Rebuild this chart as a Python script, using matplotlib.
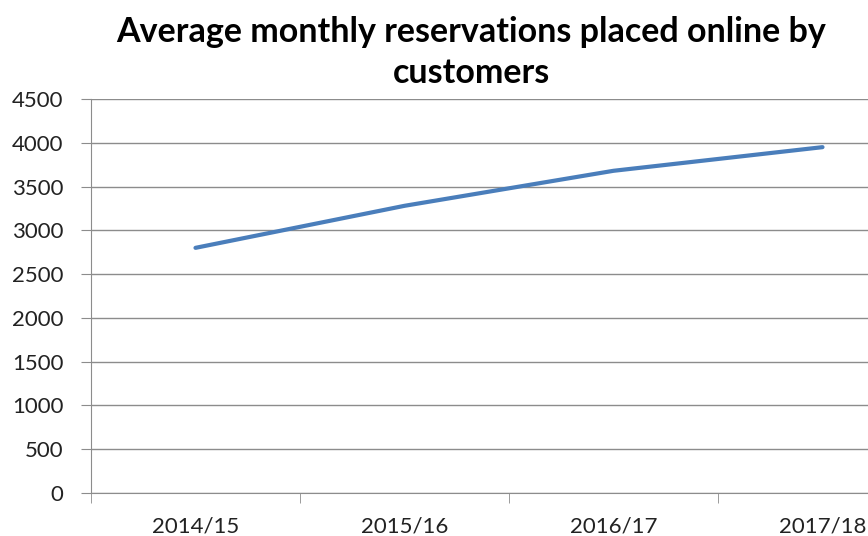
import matplotlib.pyplot as plt

# Daten aus dem Diagramm
years = ['2014/15', '2015/16', '2016/17', '2017/18']
reservations = [2800, 3280, 3680, 3950]
y_ticks = [0, 500, 1000, 1500, 2000, 2500, 3000, 3500, 4000, 4500]

plt.rcParams['font.family'] = ['Lato', 'DejaVu Sans']

fig = plt.figure(figsize=(8.68, 5.36), dpi=100)
# Plotbereich ragt rechts über den Rand hinaus (wie im Original abgeschnitten)
ax = fig.add_axes([91 / 868, 1 - 493 / 536, 836 / 868, 394 / 536])

x = list(range(len(years)))
ax.plot(x, reservations, color='#4A7EBB', linewidth=3, solid_capstyle='round',
        solid_joinstyle='round', zorder=3)

ax.set_xlim(-0.5, len(years) - 0.5)
ax.set_ylim(0, 4500)
ax.set_yticks(y_ticks)
ax.set_yticklabels([str(v) for v in y_ticks])
ax.set_xticks(x)
ax.set_xticklabels(years)
ax.set_xticks([i - 0.5 for i in range(len(years) + 1)], minor=True)

ax.grid(axis='y', color='#8c8c8c', linewidth=1)
ax.set_axisbelow(True)

for side in ['top', 'right']:
    ax.spines[side].set_visible(False)
ax.spines['left'].set_color('#8c8c8c')
ax.spines['bottom'].set_color('#8c8c8c')

ax.tick_params(axis='y', length=7, color='#8c8c8c', labelsize=16, pad=13,
               labelcolor='#222222')
ax.tick_params(axis='x', which='major', length=0, labelsize=16, pad=17,
               labelcolor='#222222')
ax.tick_params(axis='x', which='minor', length=7, color='#8c8c8c')

fig.text(471 / 868, 1 - 16 / 536,
         'Average monthly reservations placed online by\ncustomers',
         ha='center', va='top', fontsize=24.5, fontweight='bold',
         linespacing=1.34)

fig.savefig('out.png', dpi=100)
